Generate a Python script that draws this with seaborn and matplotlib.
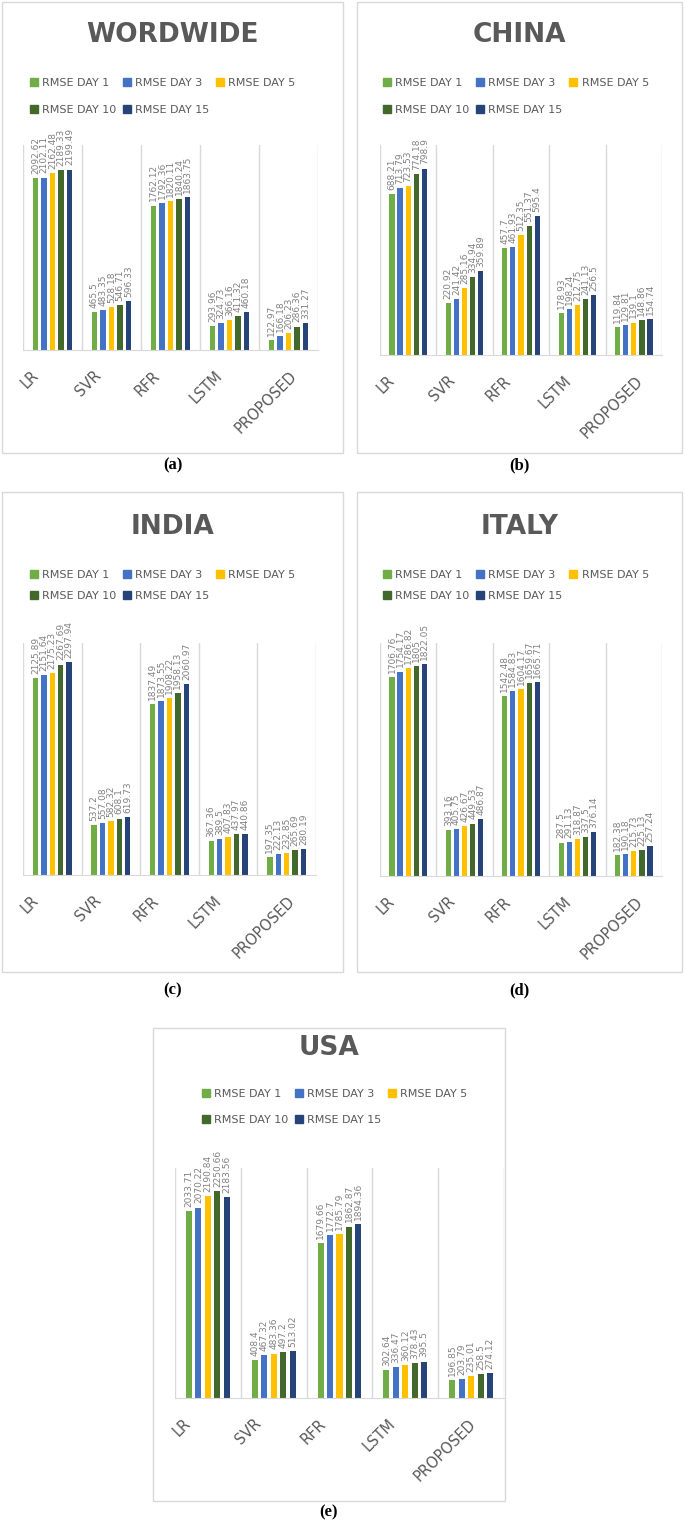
import numpy as np
import pandas as pd
import matplotlib
matplotlib.use('Agg')
import matplotlib.pyplot as plt
import seaborn as sns
from matplotlib.patches import Rectangle, Patch

# Data (RMSE per model, one list per forecast horizon order: day 1, 3, 5, 10, 15)
models = ['LR', 'SVR', 'RFR', 'LSTM', 'PROPOSED']
days = ['RMSE DAY 1', 'RMSE DAY 3', 'RMSE DAY 5', 'RMSE DAY 10', 'RMSE DAY 15']
colors = ['#70AD47', '#4472C4', '#FFC000', '#43682B', '#264478']

worldwide = [
    [2092.62, 2102.11, 2162.48, 2189.33, 2199.49],
    [465.5, 483.35, 528.18, 546.71, 596.33],
    [1762.12, 1792.36, 1820.11, 1840.24, 1863.75],
    [293.96, 324.73, 366.16, 411.32, 460.18],
    [122.97, 166.18, 206.23, 286.36, 331.27],
]
china = [
    [688.21, 713.79, 723.53, 774.18, 798.9],
    [220.92, 241.42, 285.16, 334.94, 359.89],
    [457.7, 461.93, 512.35, 551.37, 595.4],
    [178.93, 198.24, 212.75, 241.13, 256.5],
    [119.84, 129.81, 139.1, 148.86, 154.74],
]
india = [
    [2125.89, 2151.64, 2175.23, 2267.69, 2297.94],
    [537.2, 557.08, 582.32, 608.1, 619.73],
    [1837.49, 1873.55, 1908.22, 1958.13, 2060.97],
    [367.36, 389.5, 407.83, 437.97, 440.86],
    [197.35, 222.13, 232.85, 265.69, 280.19],
]
italy = [
    [1706.76, 1754.17, 1786.82, 1805, 1822.05],
    [393.16, 405.75, 426.67, 449.53, 486.87],
    [1542.48, 1584.83, 1604.17, 1659.67, 1665.71],
    [287.5, 291.13, 318.87, 337.5, 376.14],
    [182.38, 190.18, 215.73, 225.13, 257.24],
]
usa = [
    [2033.71, 2070.22, 2190.84, 2250.66, 2183.56],
    [408.4, 467.32, 483.36, 497.2, 513.02],
    [1679.66, 1772.7, 1785.79, 1862.87, 1894.36],
    [302.64, 336.47, 360.12, 378.43, 395.5],
    [196.85, 203.79, 235.01, 258.5, 274.12],
]

W, H = 685, 1525
sns.set_style('white')
fig = plt.figure(figsize=(W / 100, H / 100), dpi=100)

# layout in pixels: box, plot area, ymax, title y, legend (x, top y, spacing), caption
panels = [
    ('WORDWIDE', worldwide, (2, 2, 343, 453), (23, 145, 318, 350), 2500, 35, (30, 78, 1.55), '(a)', 465),
    ('CHINA', china, (357, 2, 682, 453), (380, 145, 662, 355), 900, 35, (383, 78, 1.55), '(b)', 465),
    ('INDIA', india, (2, 492, 343, 972), (23, 643, 316, 875), 2500, 527, (30, 570, 0.95), '(c)', 990),
    ('ITALY', italy, (357, 492, 682, 972), (380, 643, 662, 876), 2000, 527, (383, 570, 0.95), '(d)', 990),
    ('USA', usa, (153, 1028, 505, 1501), (175, 1168, 504, 1398), 2500, 1048, (202, 1089, 1.4), '(e)', 1512),
]

handles = [Patch(color=c) for c in colors]
order = [0, 3, 1, 4, 2]  # row-major legend with 3 columns

for title, vals, box, area, ymax, ty, leg, cap, cy in panels:
    bx0, by0, bx1, by1 = box
    fig.add_artist(Rectangle((bx0 / W, 1 - by1 / H), (bx1 - bx0) / W, (by1 - by0) / H,
                             transform=fig.transFigure, fill=False, ec='#d9d9d9', lw=1))
    x0, y0, x1, y1 = area
    ax = fig.add_axes([x0 / W, 1 - y1 / H, (x1 - x0) / W, (y1 - y0) / H])

    df = pd.DataFrame([(m, d, vals[i][j]) for i, m in enumerate(models) for j, d in enumerate(days)],
                      columns=['model', 'day', 'rmse'])
    sns.barplot(data=df, x='model', y='rmse', hue='day', order=models, hue_order=days,
                palette=colors, saturation=1, width=0.72, gap=0.36, errorbar=None,
                linewidth=0, legend=False, ax=ax)
    for c in ax.containers:
        ax.bar_label(c, fmt='%g', rotation=90, padding=3, fontsize=6.5, color='#808080')

    ax.set_ylim(0, ymax)
    ax.set_xlim(-0.5, 4.5)
    ax.set_yticks([])
    ax.set_xlabel('')
    ax.set_ylabel('')
    ax.set_xticks(np.arange(-0.5, 5, 1), minor=True)
    ax.set_xticks(np.arange(5) - 0.39, labels=models, rotation=45, ha='center', va='top',
                  fontsize=10.5, color='#595959')
    ax.tick_params(axis='x', which='both', length=0, pad=13)
    ax.grid(False)
    ax.grid(True, which='minor', axis='x', color='#d9d9d9', lw=1)
    ax.set_axisbelow(True)
    for s in ['left', 'right', 'top']:
        ax.spines[s].set_visible(False)
    ax.spines['bottom'].set_color('#d9d9d9')

    cx = (bx0 + bx1) / 2
    fig.text(cx / W, 1 - ty / H, title, ha='center', va='center', fontsize=19,
             fontweight='bold', color='#595959')
    lx, ly, ls = leg
    fig.legend([handles[k] for k in order], [days[k] for k in order], loc='upper left',
               bbox_to_anchor=(lx / W, 1 - ly / H), ncol=3, frameon=False, fontsize=8,
               handlelength=0.7, handleheight=0.7, handletextpad=0.4, columnspacing=0.6,
               labelspacing=ls, borderpad=0, borderaxespad=0, labelcolor='#595959')
    fig.text(cx / W, 1 - cy / H, cap, ha='center', va='center', fontsize=12,
             fontweight='bold', family='Liberation Serif', color='black')

fig.savefig('out.png', dpi=100)
